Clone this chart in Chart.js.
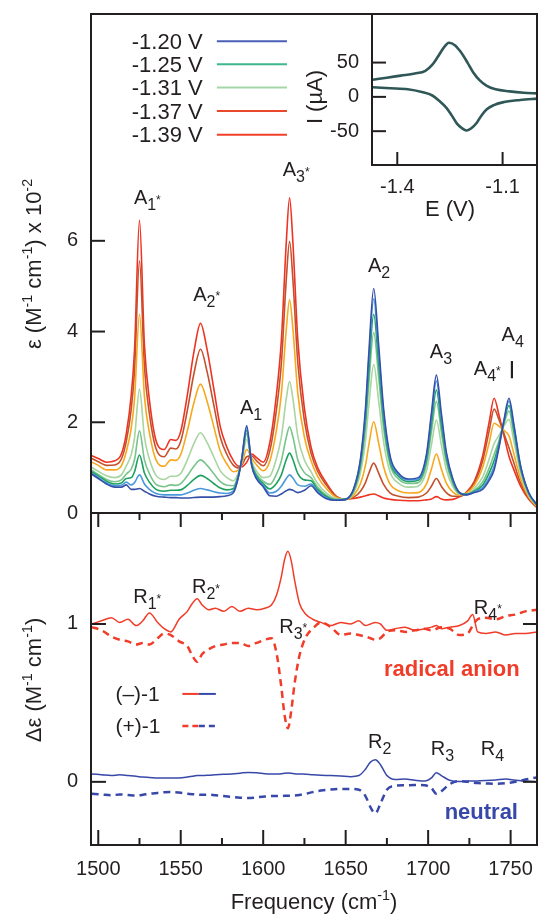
<!DOCTYPE html>
<html>
<head>
<meta charset="utf-8">
<title>IR and VCD spectra</title>
<script src="https://cdn.jsdelivr.net/npm/chart.js@4.4.1/dist/chart.umd.min.js"></script>
<style>
  html, body { margin: 0; padding: 0; background: #fff; overflow: hidden; }
  #figure { position: relative; width: 538px; height: 916px; overflow: hidden; background: #fff; }
  #figure canvas { position: absolute; }
</style>
</head>
<body>
<div id="figure">
  <canvas id="absChart" width="538" height="530" style="left:0;top:0"></canvas>
  <canvas id="cdChart" width="538" height="416" style="left:0;top:500px"></canvas>
  <canvas id="cvChart" width="238" height="230" style="left:300px;top:0"></canvas>
</div>
<script>
const FONT = '"Liberation Sans", Arial, Helvetica, sans-serif';
const INK = '#231f20';
Chart.defaults.font.family = FONT;
Chart.defaults.color = INK;

// ── Absorption spectra, ε (M-1 cm-1) x 10^-2 ─────────────────
const freq = [1495, 1500, 1505, 1510, 1514, 1517, 1520, 1522, 1525, 1528, 1531, 1535, 1540, 1544, 1547,
  1550, 1554, 1558, 1562, 1566, 1570, 1574, 1578, 1582, 1585, 1587, 1590, 1593, 1596, 1600,
  1604, 1608, 1611, 1614, 1616, 1618, 1621, 1625, 1629, 1633, 1638, 1644, 1650, 1655, 1659,
  1662, 1664, 1667, 1670, 1673, 1677, 1682, 1688, 1694, 1699, 1702, 1705, 1708, 1711, 1715,
  1719, 1723, 1728, 1733, 1737, 1740, 1743, 1746, 1749, 1752, 1756, 1761, 1766];

const epsBlue = [0.88, 0.76, 0.64, 0.57, 0.57, 0.62, 0.52, 0.52, 0.54, 0.48, 0.42, 0.37, 0.35, 0.34, 0.34,
  0.33, 0.33, 0.34, 0.35, 0.35, 0.35, 0.36, 0.38, 0.45, 0.80, 1.20, 1.92, 1.05, 0.75, 0.58,
  0.38, 0.37, 0.42, 0.49, 0.52, 0.50, 0.45, 0.50, 0.60, 0.45, 0.32, 0.28, 0.30, 0.55, 1.20,
  2.30, 3.50, 4.95, 3.70, 2.30, 1.25, 0.88, 0.75, 0.78, 1.30, 2.20, 3.04, 2.20, 1.35, 0.75,
  0.45, 0.40, 0.45, 0.52, 0.72, 0.95, 1.45, 2.05, 2.53, 1.95, 1.05, 0.45, 0.18];
const epsSky = [0.90, 0.78, 0.66, 0.60, 0.61, 0.68, 0.62, 0.67, 0.84, 0.64, 0.52, 0.43, 0.40, 0.40, 0.40,
  0.40, 0.44, 0.50, 0.54, 0.51, 0.47, 0.44, 0.43, 0.49, 0.81, 1.19, 1.88, 1.06, 0.77, 0.61,
  0.44, 0.48, 0.59, 0.76, 0.84, 0.77, 0.62, 0.59, 0.64, 0.48, 0.34, 0.28, 0.30, 0.54, 1.16,
  2.20, 3.35, 4.72, 3.53, 2.20, 1.20, 0.85, 0.73, 0.75, 1.25, 2.11, 2.91, 2.11, 1.30, 0.73,
  0.45, 0.40, 0.46, 0.56, 0.78, 1.03, 1.49, 2.03, 2.47, 1.90, 1.03, 0.44, 0.18];
const epsGreen = [0.93, 0.82, 0.70, 0.64, 0.66, 0.76, 0.78, 0.91, 1.28, 0.88, 0.68, 0.52, 0.48, 0.50, 0.50,
  0.51, 0.61, 0.74, 0.83, 0.76, 0.65, 0.55, 0.51, 0.54, 0.83, 1.18, 1.82, 1.08, 0.81, 0.65,
  0.53, 0.65, 0.84, 1.18, 1.32, 1.18, 0.87, 0.73, 0.71, 0.52, 0.37, 0.29, 0.30, 0.52, 1.09,
  2.06, 3.11, 4.38, 3.29, 2.05, 1.13, 0.81, 0.69, 0.72, 1.17, 1.96, 2.71, 1.96, 1.22, 0.69,
  0.44, 0.41, 0.48, 0.61, 0.88, 1.15, 1.54, 2.01, 2.37, 1.83, 0.99, 0.43, 0.17];
const epsMint = [0.97, 0.85, 0.74, 0.69, 0.73, 0.86, 0.97, 1.18, 1.81, 1.17, 0.87, 0.63, 0.58, 0.62, 0.61,
  0.65, 0.82, 1.03, 1.17, 1.05, 0.87, 0.69, 0.61, 0.60, 0.85, 1.16, 1.75, 1.10, 0.85, 0.70,
  0.63, 0.85, 1.15, 1.67, 1.90, 1.68, 1.17, 0.89, 0.78, 0.57, 0.40, 0.30, 0.30, 0.50, 1.02,
  1.89, 2.83, 3.98, 2.99, 1.88, 1.05, 0.75, 0.65, 0.67, 1.08, 1.79, 2.46, 1.79, 1.12, 0.65,
  0.43, 0.41, 0.50, 0.68, 0.99, 1.29, 1.60, 1.97, 2.25, 1.74, 0.95, 0.42, 0.17];
const epsPale = [1.03, 0.92, 0.82, 0.78, 0.84, 1.04, 1.29, 1.66, 2.73, 1.67, 1.19, 0.83, 0.74, 0.81, 0.81,
  0.87, 1.17, 1.53, 1.77, 1.55, 1.24, 0.93, 0.78, 0.71, 0.89, 1.13, 1.62, 1.14, 0.92, 0.78,
  0.81, 1.20, 1.67, 2.52, 2.90, 2.52, 1.69, 1.17, 0.91, 0.65, 0.45, 0.32, 0.30, 0.46, 0.89,
  1.59, 2.35, 3.27, 2.47, 1.57, 0.90, 0.66, 0.57, 0.59, 0.93, 1.50, 2.05, 1.50, 0.96, 0.58,
  0.42, 0.42, 0.54, 0.79, 1.19, 1.53, 1.71, 1.92, 2.06, 1.58, 0.88, 0.39, 0.16];
const epsOrange = [1.14, 1.05, 0.95, 0.95, 1.04, 1.35, 1.87, 2.52, 4.38, 2.57, 1.77, 1.17, 1.03, 1.17, 1.16,
  1.29, 1.81, 2.43, 2.84, 2.46, 1.91, 1.36, 1.08, 0.91, 0.95, 1.08, 1.40, 1.21, 1.06, 0.93,
  1.14, 1.82, 2.62, 4.05, 4.70, 4.06, 2.63, 1.67, 1.15, 0.81, 0.55, 0.35, 0.30, 0.40, 0.65,
  1.05, 1.49, 2.01, 1.54, 1.02, 0.63, 0.49, 0.44, 0.45, 0.64, 0.97, 1.30, 0.97, 0.66, 0.46,
  0.39, 0.43, 0.61, 1.00, 1.55, 1.98, 1.91, 1.82, 1.70, 1.30, 0.76, 0.35, 0.14];
const epsRust = [1.22, 1.13, 1.05, 1.06, 1.19, 1.58, 2.29, 3.14, 5.56, 3.22, 2.19, 1.42, 1.24, 1.43, 1.41,
  1.58, 2.26, 3.07, 3.61, 3.11, 2.39, 1.67, 1.29, 1.05, 0.99, 1.05, 1.24, 1.26, 1.15, 1.04,
  1.37, 2.27, 3.29, 5.15, 5.99, 5.15, 3.30, 2.03, 1.32, 0.92, 0.63, 0.37, 0.30, 0.35, 0.48,
  0.67, 0.87, 1.10, 0.88, 0.63, 0.44, 0.37, 0.34, 0.35, 0.44, 0.59, 0.76, 0.59, 0.45, 0.37,
  0.37, 0.44, 0.66, 1.14, 1.81, 2.29, 2.05, 1.75, 1.44, 1.10, 0.67, 0.32, 0.13];
const epsRed = [1.28, 1.20, 1.12, 1.15, 1.30, 1.75, 2.60, 3.60, 6.45, 3.70, 2.50, 1.60, 1.40, 1.62, 1.60,
  1.80, 2.60, 3.55, 4.18, 3.60, 2.75, 1.90, 1.45, 1.15, 1.03, 1.02, 1.12, 1.30, 1.22, 1.12,
  1.55, 2.60, 3.80, 5.97, 6.95, 5.97, 3.80, 2.30, 1.45, 1.00, 0.68, 0.38, 0.30, 0.32, 0.35,
  0.38, 0.40, 0.42, 0.38, 0.33, 0.30, 0.28, 0.27, 0.27, 0.29, 0.31, 0.36, 0.31, 0.29, 0.30,
  0.36, 0.45, 0.70, 1.25, 2.00, 2.53, 2.15, 1.70, 1.25, 0.95, 0.60, 0.30, 0.12];

const absTicks = [0, 2, 4, 6];
const legendLabels = ['-1.20 V', '-1.25 V', '-1.31 V', '-1.37 V', '-1.39 V'];

// ── VCD spectra, Δε (M-1 cm-1) ──────────────────────────────
const cdFreq = [1496, 1502, 1508, 1513, 1518, 1523, 1527, 1531, 1536, 1540, 1544, 1549, 1554, 1557, 1560,
  1563, 1567, 1571, 1576, 1581, 1586, 1591, 1596, 1601, 1605, 1608, 1611, 1613, 1615, 1617,
  1619, 1622, 1626, 1630, 1635, 1641, 1647, 1653, 1658, 1662, 1665, 1668, 1671, 1675, 1680,
  1686, 1692, 1698, 1702, 1705, 1708, 1713, 1719, 1724, 1727, 1730, 1735, 1741, 1747, 1753,
  1759, 1766];
const anionMinus = [1.00, 1.02, 1.04, 1.01, 1.03, 0.99, 1.02, 1.07, 1.01, 0.97, 0.95, 1.03, 1.08, 1.13, 1.16,
  1.12, 1.09, 1.10, 1.08, 1.11, 1.08, 1.10, 1.09, 1.10, 1.12, 1.18, 1.30, 1.41, 1.46, 1.40,
  1.28, 1.13, 1.06, 1.03, 1.01, 0.99, 1.01, 1.00, 1.02, 0.99, 1.00, 1.01, 1.00, 0.96, 0.97,
  0.98, 0.96, 0.97, 0.98, 0.99, 0.97, 0.98, 0.99, 1.02, 1.06, 0.95, 0.94, 0.95, 0.93, 0.94,
  0.94, 0.95];
const anionPlus = [0.98, 0.96, 0.92, 0.90, 0.89, 0.87, 0.88, 0.87, 0.91, 0.94, 0.93, 0.89, 0.86, 0.80, 0.76,
  0.81, 0.84, 0.86, 0.87, 0.88, 0.88, 0.86, 0.88, 0.90, 0.91, 0.82, 0.60, 0.42, 0.34, 0.45,
  0.62, 0.80, 0.92, 0.97, 1.01, 0.98, 0.93, 0.94, 0.93, 0.92, 0.91, 0.90, 0.91, 0.95, 0.96,
  0.95, 0.96, 0.97, 0.96, 0.97, 0.98, 0.97, 0.93, 0.94, 0.99, 1.03, 1.04, 1.03, 1.05, 1.06,
  1.08, 1.09];
const neutralMinus = [0.050, 0.045, 0.040, 0.045, 0.040, 0.035, 0.030, 0.028, 0.025, 0.025, 0.025, 0.025, 0.030, 0.035, 0.040,
  0.040, 0.042, 0.045, 0.048, 0.050, 0.055, 0.060, 0.058, 0.052, 0.050, 0.050, 0.052, 0.055, 0.056, 0.055,
  0.052, 0.050, 0.048, 0.045, 0.042, 0.040, 0.037, 0.033, 0.040, 0.080, 0.125, 0.140, 0.110, 0.040, 0.015,
  0.018, 0.010, 0.005, 0.025, 0.058, 0.040, 0.010, 0.002, 0.005, 0.005, 0.006, 0.008, 0.012, 0.018, 0.010,
  0.005, 0.000];
const neutralPlus = [-0.075, -0.080, -0.085, -0.080, -0.083, -0.086, -0.082, -0.075, -0.070, -0.066, -0.064, -0.068, -0.075, -0.078, -0.080,
  -0.082, -0.081, -0.085, -0.090, -0.095, -0.100, -0.103, -0.098, -0.093, -0.090, -0.090, -0.090, -0.088, -0.088, -0.088,
  -0.087, -0.083, -0.075, -0.065, -0.055, -0.048, -0.045, -0.045, -0.050, -0.090, -0.160, -0.200, -0.140, -0.050, -0.025,
  -0.022, -0.020, -0.022, -0.040, -0.075, -0.060, -0.015, 0.005, 0.000, -0.005, -0.008, -0.010, -0.012, -0.008, 0.000,
  0.015, 0.028];

const cdTicks = [0, 1];
const freqTicks = [1500, 1550, 1600, 1650, 1700, 1750];
const freqMinor = [1525, 1575, 1625, 1675, 1725];

// ── Cyclic voltammogram (inset) ─────────────────────────────
const cvOxE = [-1.47, -1.43, -1.39, -1.35, -1.32, -1.30, -1.285, -1.27, -1.253, -1.235, -1.22, -1.20, -1.184, -1.165, -1.145, -1.12, -1.08, -1.04, -1.00];
const cvOxI = [25, 28, 31, 34, 38, 47, 58, 70, 79, 75, 66, 50, 36, 24, 16, 11, 8, 6, 5];
const cvRedE = [-1.47, -1.42, -1.37, -1.33, -1.30, -1.28, -1.26, -1.245, -1.23, -1.215, -1.203, -1.19, -1.174, -1.16, -1.145, -1.125, -1.10, -1.05, -1.00];
const cvRedI = [14, 12.5, 11, 7, 2, -6, -16, -27, -39, -46, -49, -46, -38, -27, -18, -12, -8, -4.5, -2.5];
const cvETicks = [-1.4, -1.1];
const cvITicks = [-50, 0, 50];

// ── Styles ──────────────────────────────────────────────────
const absColors = ['#3550a8', '#4a98dc', '#1ea060', '#78c48a', '#a8d5a0', '#f7a81e', '#c4502c', '#ee3322'];
const legendColors = ['#4a5fb5', '#3db88a', '#a5d6a7', '#e8492c', '#f0402a'];
const RED = '#f03c28';
const BLUE = '#3848a8';

function xy(xs, ys) { return xs.map((x, i) => ({ x, y: ys[i] })); }
function absSeries() { return [epsBlue, epsSky, epsGreen, epsMint, epsPale, epsOrange, epsRust, epsRed]; }

// ── Rich text (sub / superscripts) ──────────────────────────
const RICH = { n: [1, 0], sub: [0.8, 0.3], sup: [0.65, -0.42], star: [0.6, -0.02] };
function drawRich(ctx, parts, x, y, o) {
    const size = o.size || 20;
    const weight = o.bold ? 'bold ' : '';
    const items = parts.map(p => typeof p === 'string' ? { t: p, k: 'n' } : p);
    ctx.save();
    ctx.translate(x, y);
    if (o.rot) ctx.rotate(o.rot);
    ctx.fillStyle = o.color || INK;
    ctx.textBaseline = 'alphabetic';
    ctx.textAlign = 'left';
    let total = 0;
    items.forEach(it => {
        ctx.font = `${weight}${size * RICH[it.k][0]}px ${FONT}`;
        it.w = ctx.measureText(it.t).width;
        total += it.w;
    });
    let cx = o.align === 'center' ? -total / 2 : o.align === 'right' ? -total : 0;
    items.forEach(it => {
        ctx.font = `${weight}${size * RICH[it.k][0]}px ${FONT}`;
        ctx.fillText(it.t, cx, size * RICH[it.k][1]);
        cx += it.w;
    });
    ctx.restore();
}

// ── Frame, inward ticks, labels ─────────────────────────────
const panelDecor = {
    id: 'panelDecor',
    beforeDraw(chart, args, o) {
        if (!o.fillWhite) return;
        const { ctx, chartArea: a } = chart;
        ctx.save();
        ctx.fillStyle = '#fff';
        ctx.fillRect(a.left, a.top, a.right - a.left, a.bottom - a.top);
        ctx.restore();
    },
    afterDraw(chart, args, o) {
        const { ctx, chartArea: a, scales } = chart;
        ctx.save();
        ctx.strokeStyle = INK;
        ctx.lineWidth = 2;
        ctx.strokeRect(a.left, a.top, a.right - a.left, a.bottom - a.top);
        (o.marks || []).forEach(m => {
            const s = scales[m.axis];
            m.values.forEach(v => {
                const p = s.getPixelForValue(v);
                ctx.beginPath();
                if (m.side === 'left') { ctx.moveTo(a.left, p); ctx.lineTo(a.left + m.len, p); }
                if (m.side === 'right') { ctx.moveTo(a.right, p); ctx.lineTo(a.right - m.len, p); }
                if (m.side === 'top') { ctx.moveTo(p, a.top); ctx.lineTo(p, a.top + m.len); }
                if (m.side === 'bottom') { ctx.moveTo(p, a.bottom); ctx.lineTo(p, a.bottom - m.len); }
                ctx.stroke();
            });
        });
        (o.segments || []).forEach(sg => {
            ctx.beginPath();
            ctx.strokeStyle = sg.color || INK;
            ctx.lineWidth = sg.width || 2;
            ctx.setLineDash(sg.dash || []);
            ctx.moveTo(scales.x.getPixelForValue(sg.x1), scales.y.getPixelForValue(sg.y1));
            ctx.lineTo(scales.x.getPixelForValue(sg.x2), scales.y.getPixelForValue(sg.y2));
            ctx.stroke();
        });
        ctx.setLineDash([]);
        (o.texts || []).forEach(t => {
            const x = t.px !== undefined ? t.px : scales.x.getPixelForValue(t.x);
            const y = t.py !== undefined ? t.py : scales.y.getPixelForValue(t.y);
            drawRich(ctx, t.parts, x, y, t);
        });
        ctx.restore();
    }
};
Chart.register(panelDecor);

const tickFont = { size: 20 };
const noGrid = { display: false, drawTicks: false };
const noBorder = { display: false };
const cm1 = [' cm', { t: '-1', k: 'sup' }];

// Chart.js pads the plot for edge labels; the panels here are placed by hand
function noPad(s) { s.paddingTop = 0; s.paddingBottom = 0; s.paddingLeft = 0; s.paddingRight = 0; }
const fitWidth = w => s => { s.width = w; noPad(s); };
const fitHeight = h => s => { s.height = h; noPad(s); };

// ── Top panel: absorption ───────────────────────────────────
const legendRows = [10.40, 9.89, 9.38, 8.86, 8.34];
const legendSegments = legendRows.map((v, i) => ({ x1: 1571.9, x2: 1614.4, y1: v, y2: v, color: legendColors[i], width: 2 }));
const legendTexts = legendRows.map((v, i) => ({ x: 1563.3, y: v - 0.17, parts: [legendLabels[i]], size: 22, align: 'right' }));

new Chart(document.getElementById('absChart'), {
    type: 'line',
    data: {
        datasets: absSeries().map((ys, i) => ({
            data: xy(freq, ys),
            borderColor: absColors[i],
            borderWidth: 1.6,
            pointRadius: 0,
            fill: false,
            cubicInterpolationMode: 'monotone'
        }))
    },
    options: {
        responsive: false,
        animation: false,
        layout: { padding: { left: 0, top: 14, right: 1, bottom: 17 } },
        plugins: {
            legend: { display: false },
            tooltip: { enabled: false },
            panelDecor: {
                marks: [{ axis: 'y', side: 'left', values: [2, 4, 6], len: 14 }],
                segments: legendSegments.concat([{ x1: 1750.8, x2: 1750.8, y1: 2.97, y2: 3.35, width: 2.2 }]),
                texts: legendTexts.concat([
                    { x: 1521.6, y: 6.81, parts: ['A', { t: '1', k: 'sub' }, { t: '*', k: 'star' }] },
                    { x: 1557.6, y: 4.68, parts: ['A', { t: '2', k: 'sub' }, { t: '*', k: 'star' }] },
                    { x: 1611.8, y: 7.43, parts: ['A', { t: '3', k: 'sub' }, { t: '*', k: 'star' }] },
                    { x: 1585.9, y: 2.18, parts: ['A', { t: '1', k: 'sub' }] },
                    { x: 1663.5, y: 5.31, parts: ['A', { t: '2', k: 'sub' }] },
                    { x: 1701.0, y: 3.41, parts: ['A', { t: '3', k: 'sub' }] },
                    { x: 1727.7, y: 3.04, parts: ['A', { t: '4', k: 'sub' }, { t: '*', k: 'star' }] },
                    { x: 1744.5, y: 3.79, parts: ['A', { t: '4', k: 'sub' }] },
                    { px: 41, py: 264, rot: -Math.PI / 2, align: 'center', size: 22,
                      parts: ['\u03b5 (M', { t: '-1', k: 'sup' }, ...cm1, ') x 10', { t: '-2', k: 'sup' }] }
                ])
            }
        },
        scales: {
            x: { type: 'linear', min: 1495.6, max: 1766, display: false, afterFit: noPad },
            y: {
                min: 0, max: 11,
                grid: noGrid, border: noBorder,
                ticks: { font: tickFont, padding: 13, autoSkip: false, callback: v => String(v) },
                afterBuildTicks: s => { s.ticks = absTicks.map(v => ({ value: v })); },
                afterFit: fitWidth(91)
            }
        }
    }
});

// ── Bottom panel: VCD ───────────────────────────────────────
new Chart(document.getElementById('cdChart'), {
    type: 'line',
    data: {
        datasets: [
            { data: xy(cdFreq, anionMinus), borderColor: RED, borderWidth: 1.5 },
            { data: xy(cdFreq, anionPlus), borderColor: RED, borderWidth: 2.5, borderDash: [7, 5] },
            { data: xy(cdFreq, neutralMinus), borderColor: BLUE, borderWidth: 1.5 },
            { data: xy(cdFreq, neutralPlus), borderColor: BLUE, borderWidth: 2.5, borderDash: [7, 5] }
        ].map(d => Object.assign(d, { pointRadius: 0, fill: false, cubicInterpolationMode: 'monotone' }))
    },
    options: {
        responsive: false,
        animation: false,
        layout: { padding: { left: 0, top: 13, right: 1, bottom: 0 } },
        plugins: {
            legend: { display: false },
            tooltip: { enabled: false },
            panelDecor: {
                marks: [
                    { axis: 'x', side: 'top', values: freqTicks, len: 14 },
                    { axis: 'x', side: 'top', values: freqMinor, len: 7 },
                    { axis: 'x', side: 'bottom', values: freqTicks, len: 15 },
                    { axis: 'x', side: 'bottom', values: freqMinor, len: 7 },
                    { axis: 'y', side: 'left', values: cdTicks, len: 15 },
                    { axis: 'y', side: 'right', values: cdTicks, len: 14 }
                ],
                segments: [
                    { x1: 1551, x2: 1561, y1: 0.557, y2: 0.557, color: RED, width: 2 },
                    { x1: 1561, x2: 1571.3, y1: 0.557, y2: 0.557, color: BLUE, width: 2 },
                    { x1: 1551, x2: 1561, y1: 0.354, y2: 0.354, color: RED, width: 2.5, dash: [6, 4] },
                    { x1: 1561, x2: 1571.3, y1: 0.354, y2: 0.354, color: BLUE, width: 2.5, dash: [6, 4] }
                ],
                texts: [
                    { x: 1521.2, y: 1.131, parts: ['R', { t: '1', k: 'sub' }, { t: '*', k: 'star' }] },
                    { x: 1556.8, y: 1.196, parts: ['R', { t: '2', k: 'sub' }, { t: '*', k: 'star' }] },
                    { x: 1609.7, y: 0.944, parts: ['R', { t: '3', k: 'sub' }, { t: '*', k: 'star' }] },
                    { x: 1727.7, y: 1.065, parts: ['R', { t: '4', k: 'sub' }, { t: '*', k: 'star' }] },
                    { x: 1663.5, y: 0.213, parts: ['R', { t: '2', k: 'sub' }] },
                    { x: 1701.6, y: 0.171, parts: ['R', { t: '3', k: 'sub' }] },
                    { x: 1731.9, y: 0.171, parts: ['R', { t: '4', k: 'sub' }] },
                    { x: 1673.2, y: 0.668, parts: ['radical anion'], size: 22, bold: true, color: RED },
                    { x: 1710.0, y: -0.234, parts: ['neutral'], size: 22, bold: true, color: BLUE },
                    { x: 1510.4, y: 0.513, parts: ['(\u2013)-1'], size: 21 },
                    { x: 1510.4, y: 0.310, parts: ['(+)-1'], size: 21 },
                    { px: 41, py: 180, rot: -Math.PI / 2, align: 'center', size: 22,
                      parts: ['\u0394\u03b5 (M', { t: '-1', k: 'sup' }, ...cm1, ')'] },
                    { px: 314, py: 409, align: 'center', size: 22, parts: ['Frequency (cm', { t: '-1', k: 'sup' }, ')'] }
                ]
            }
        },
        scales: {
            x: {
                type: 'linear', min: 1495.6, max: 1766,
                grid: noGrid, border: noBorder,
                ticks: { font: tickFont, padding: 12, autoSkip: false, maxRotation: 0, callback: v => String(v) },
                afterBuildTicks: s => { s.ticks = freqTicks.map(v => ({ value: v })); },
                afterFit: fitHeight(71)
            },
            y: {
                min: -0.4, max: 1.703,
                grid: noGrid, border: noBorder,
                ticks: { font: tickFont, padding: 13, autoSkip: false, callback: v => String(v) },
                afterBuildTicks: s => { s.ticks = cdTicks.map(v => ({ value: v })); },
                afterFit: fitWidth(91)
            }
        }
    }
});

// ── Inset: cyclic voltammogram ──────────────────────────────
new Chart(document.getElementById('cvChart'), {
    type: 'scatter',
    data: {
        datasets: [
            { data: xy(cvOxE, cvOxI) },
            { data: xy(cvRedE, cvRedI) }
        ].map(d => Object.assign(d, {
            showLine: true, borderColor: '#2f5757', borderWidth: 2.6, pointRadius: 0,
            fill: false, cubicInterpolationMode: 'monotone'
        }))
    },
    options: {
        responsive: false,
        animation: false,
        layout: { padding: { left: 0, top: 14, right: 1, bottom: 0 } },
        plugins: {
            legend: { display: false },
            tooltip: { enabled: false },
            panelDecor: {
                fillWhite: true,
                marks: [
                    { axis: 'y', side: 'left', values: cvITicks, len: 14 },
                    { axis: 'x', side: 'bottom', values: cvETicks, len: 13 }
                ],
                texts: [
                    { px: 150, py: 216, align: 'center', size: 22, parts: ['E (V)'] },
                    { px: 22, py: 97, rot: -Math.PI / 2, align: 'center', size: 22, parts: ['I (\u00b5A)'] }
                ]
            }
        },
        scales: {
            x: {
                type: 'linear', min: -1.472, max: -1.002,
                grid: noGrid, border: noBorder,
                ticks: { font: tickFont, padding: 10, autoSkip: false, maxRotation: 0, callback: v => v.toFixed(1) },
                afterBuildTicks: s => { s.ticks = cvETicks.map(v => ({ value: v })); },
                afterFit: fitHeight(65)
            },
            y: {
                min: -99.3, max: 120.8,
                grid: noGrid, border: noBorder,
                ticks: { font: tickFont, padding: 13, autoSkip: false, callback: v => String(v) },
                afterBuildTicks: s => { s.ticks = cvITicks.map(v => ({ value: v })); },
                afterFit: fitWidth(72)
            }
        }
    }
});
</script>
</body>
</html>
